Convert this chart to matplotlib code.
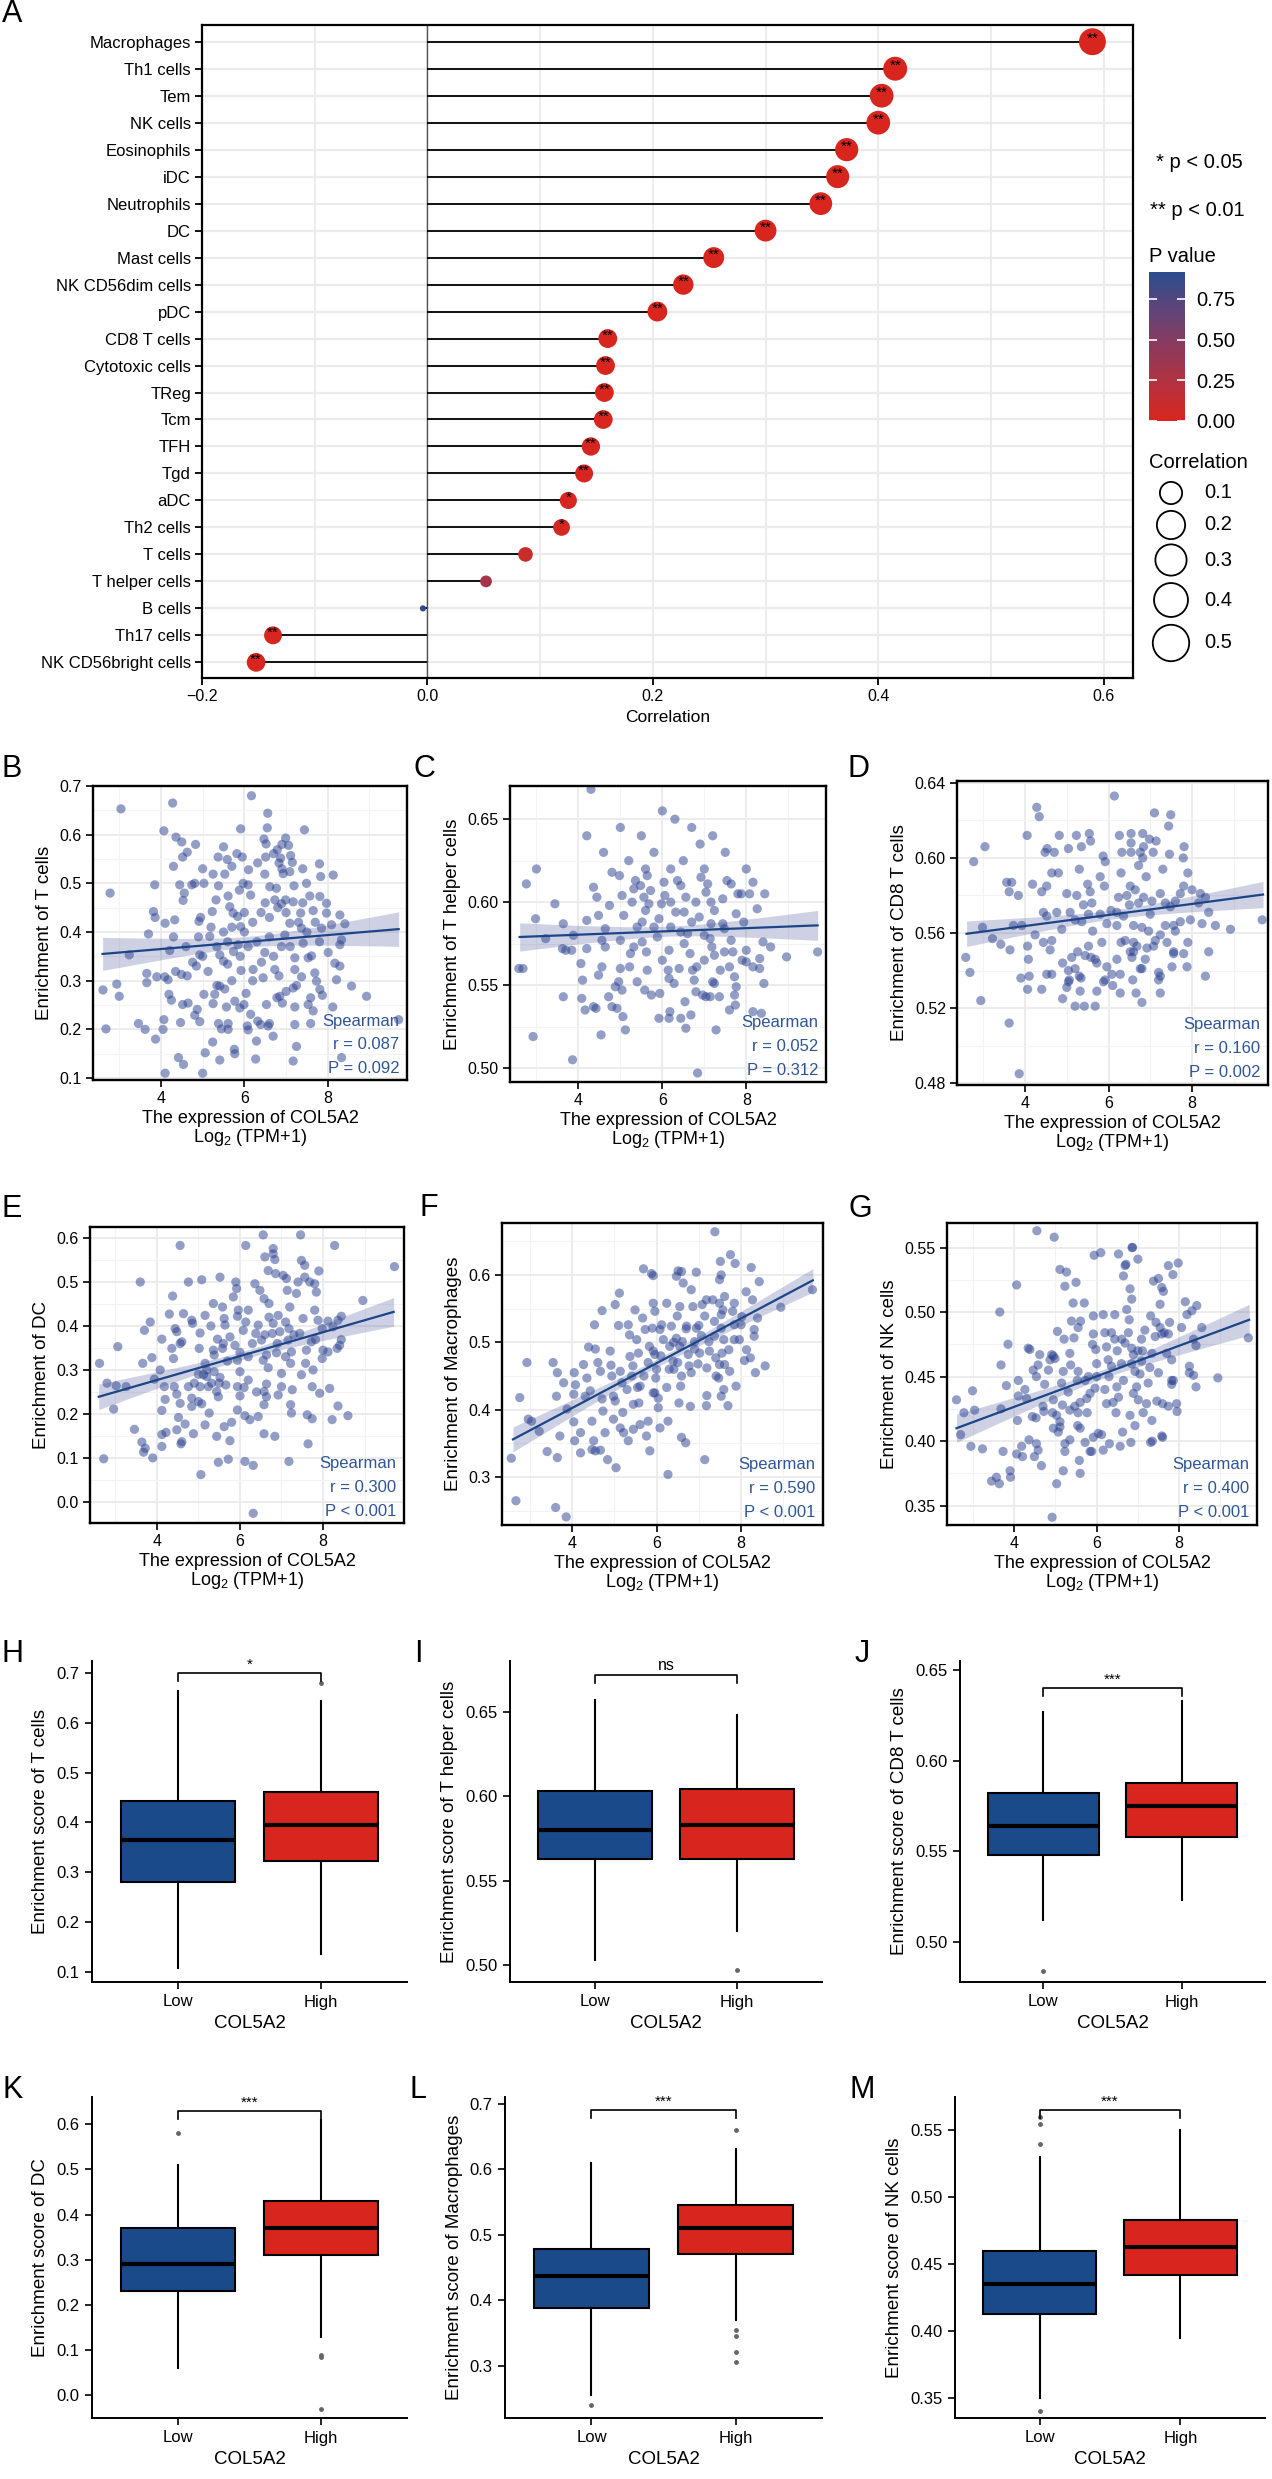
import numpy as np
import matplotlib
matplotlib.use('Agg')
import matplotlib.pyplot as plt
from matplotlib.colors import LinearSegmentedColormap, Normalize
from matplotlib.ticker import MultipleLocator, FormatStrFormatter

plt.rcParams['font.family'] = ['Liberation Sans', 'DejaVu Sans']
plt.rcParams['mathtext.fontset'] = 'custom'
plt.rcParams['mathtext.rm'] = 'Liberation Sans'
plt.rcParams['mathtext.default'] = 'regular'

# ---------------- data: panel A ----------------
cells = ['Macrophages', 'Th1 cells', 'Tem', 'NK cells', 'Eosinophils', 'iDC', 'Neutrophils', 'DC',
         'Mast cells', 'NK CD56dim cells', 'pDC', 'CD8 T cells', 'Cytotoxic cells', 'TReg', 'Tcm',
         'TFH', 'Tgd', 'aDC', 'Th2 cells', 'T cells', 'T helper cells', 'B cells', 'Th17 cells',
         'NK CD56bright cells']
corr = [0.590, 0.415, 0.403, 0.400, 0.372, 0.364, 0.349, 0.300, 0.254, 0.227, 0.204, 0.160, 0.158,
        0.157, 0.156, 0.145, 0.139, 0.125, 0.119, 0.087, 0.052, -0.004, -0.137, -0.152]
pval = [0.0001, 0.0001, 0.0001, 0.0001, 0.0001, 0.0001, 0.0001, 0.0001, 0.0001, 0.0001, 0.0001,
        0.002, 0.002, 0.002, 0.002, 0.005, 0.006, 0.015, 0.02, 0.092, 0.312, 0.915, 0.006, 0.003]
stars = ['**'] * 17 + ['*', '*', '', '', '', '**', '**']

# ---------------- data: scatter panels ----------------
b_pts = [(3.04,0.653),(4.28,0.665),(6.17,0.680),(6.56,0.644),(6.55,0.614),(5.91,0.612),(7.44,0.610),
 (4.07,0.608),(4.36,0.595),(4.50,0.585),(4.83,0.580),(4.63,0.564),(4.52,0.554),(5.50,0.575),(5.37,0.554),
 (5.59,0.549),(5.82,0.561),(5.95,0.554),(6.47,0.591),(6.52,0.581),(6.99,0.593),(6.90,0.580),(7.06,0.578),
 (6.79,0.569),(6.70,0.561),(6.51,0.554),(7.11,0.557),(6.87,0.552),(6.83,0.542),(6.32,0.542),(7.15,0.543),
 (5.0,0.53),(5.7,0.535),(6.1,0.528),(7.4,0.53),(7.8,0.54),(4.3,0.535),(6.9,0.53),
 (2.78,0.48),(3.85,0.497),(2.61,0.281),(2.94,0.293),(3.0,0.268),(2.68,0.201),(3.24,0.353),(3.46,0.212),
 (3.62,0.200),(3.87,0.18),(3.66,0.315),(3.66,0.296),(3.90,0.308),(3.70,0.396),(3.82,0.442),(3.86,0.43),
 (4.09,0.308),(4.17,0.302),(4.19,0.272),(4.25,0.26),(4.07,0.22),(4.05,0.20),(4.10,0.418),(4.21,0.362),
 (4.33,0.425),(4.45,0.497),(4.56,0.48),(4.53,0.465),(4.35,0.319),(4.49,0.313),(4.63,0.31),(4.52,0.251),
 (4.65,0.254),(4.47,0.214),(4.42,0.142),(4.54,0.128),(4.10,0.11),(4.74,0.497),(4.81,0.50),(5.03,0.50),
 (4.76,0.338),(4.85,0.33),(4.91,0.422),(4.93,0.353),(4.95,0.43),(4.87,0.241),(4.93,0.216),(4.81,0.229),
 (5.24,0.174),(5.06,0.152),(5.0,0.11),(5.41,0.137),(5.25,0.253),(5.29,0.272),(5.03,0.272),(5.13,0.319),
 (5.17,0.391),(5.23,0.442),(5.32,0.466),(5.38,0.495),(5.25,0.519),(5.53,0.519),(5.34,0.37),(5.41,0.353),
 (5.50,0.34),(5.60,0.334),(5.34,0.29),(5.41,0.289),(5.53,0.283),(5.61,0.474),(5.65,0.452),(5.73,0.439),
 (5.74,0.36),(5.57,0.246),(5.77,0.258),(5.38,0.212),(5.61,0.212),(5.45,0.201),(5.61,0.2),(5.76,0.159),
 (5.77,0.15),(5.89,0.244),(5.99,0.251),(6.04,0.274),(5.92,0.321),(5.85,0.374),(5.91,0.411),(5.84,0.432),
 (5.88,0.486),(5.97,0.50),(6.09,0.497),(6.15,0.476),(6.09,0.37),(6.07,0.207),(6.09,0.199),(6.15,0.231),
 (6.32,0.217),(6.29,0.176),(6.27,0.139),(6.21,0.323),(6.41,0.338),(6.49,0.358),(6.45,0.306),(6.53,0.251),
 (6.57,0.207),(6.60,0.212),(6.69,0.186),(6.39,0.21),(6.49,0.519),(6.61,0.493),(6.77,0.49),(6.73,0.466),
 (6.89,0.458),(6.99,0.466),(6.93,0.52),(7.09,0.524),(6.73,0.323),(6.83,0.31),(6.85,0.268),(6.91,0.254),
 (6.78,0.265),(7.0,0.278),(6.89,0.37),(6.97,0.394),(7.09,0.418),(7.21,0.347),(7.21,0.323),(7.17,0.285),
 (7.25,0.29),(7.21,0.246),(7.21,0.21),(7.25,0.165),(7.17,0.135),(7.19,0.495),(7.17,0.462),(7.35,0.439),
 (7.49,0.50),(7.57,0.474),(7.65,0.444),(7.37,0.308),(7.37,0.408),(7.41,0.377),(7.53,0.347),(7.61,0.351),
 (7.53,0.251),(7.59,0.265),(7.65,0.238),(7.59,0.212),(7.69,0.316),(7.73,0.299),(7.81,0.282),(7.87,0.27),
 (7.83,0.514),(8.13,0.517),(7.81,0.473),(7.97,0.459),(7.85,0.408),(7.97,0.439),(8.09,0.415),(8.29,0.435),
 (8.41,0.417),(8.29,0.374),(8.33,0.384),(8.17,0.336),(8.29,0.33),(8.12,0.246),(8.33,0.142),(8.57,0.289),
 (8.93,0.268),(9.70,0.22),(8.01,0.358),(8.21,0.302),
 (5.5,0.40),(5.7,0.41),(6.0,0.40),(6.2,0.42),(6.4,0.44),(6.6,0.43),(6.8,0.45),(7.0,0.44),(7.3,0.42),
 (7.5,0.40),(6.3,0.38),(6.6,0.39),(7.1,0.37),(5.6,0.38),(6.0,0.44),(6.5,0.46),(7.4,0.46),(7.7,0.42),
 (5.2,0.41),(4.9,0.39),(5.9,0.35),(6.7,0.35),(7.8,0.38),(6.2,0.30),(5.7,0.30),(5.0,0.35),(4.6,0.37),(4.3,0.39)]

c_pts = [(2.76,0.611),(3.44,0.599),(2.98,0.59),(2.58,0.56),(2.68,0.56),(2.92,0.519),(3.86,0.505),(3.22,0.578),
 (3.64,0.587),(3.62,0.572),(3.70,0.571),(3.84,0.571),(3.64,0.543),(3.88,0.58),(4.10,0.553),(4.06,0.563),
 (4.08,0.542),(4.16,0.535),(4.20,0.572),(4.20,0.589),(4.36,0.609),(4.44,0.603),(4.48,0.592),(4.48,0.556),
 (4.36,0.537),(4.42,0.536),(4.54,0.52),(4.56,0.561),(4.64,0.573),(4.56,0.577),(4.64,0.584),(4.74,0.598),
 (4.72,0.543),(4.80,0.537),(4.92,0.536),(4.96,0.552),(4.88,0.549),(5.04,0.547),(5.06,0.531),(5.12,0.523),
 (5.0,0.577),(5.08,0.592),(5.04,0.604),(4.98,0.616),(5.28,0.60),(5.32,0.608),(5.36,0.613),(5.24,0.569),
 (5.32,0.573),(5.22,0.561),(5.40,0.552),(5.52,0.588),(5.56,0.603),(5.48,0.61),(5.64,0.616),(5.72,0.607),
 (5.68,0.599),(5.62,0.57),(5.64,0.559),(5.58,0.547),(5.74,0.544),(5.52,0.576),(5.94,0.545),(5.92,0.53),
 (6.16,0.53),(6.18,0.534),(5.92,0.59),(5.98,0.599),(6.04,0.612),(6.06,0.604),(5.88,0.579),(6.16,0.571),
 (6.14,0.559),(6.16,0.554),(6.28,0.551),(6.36,0.613),(6.44,0.61),(6.56,0.603),(6.52,0.594),(6.32,0.594),
 (6.44,0.582),(6.52,0.575),(6.60,0.581),(6.54,0.54),(6.44,0.53),(6.56,0.524),(6.68,0.532),(6.66,0.569),
 (6.72,0.559),(6.76,0.553),(6.82,0.561),(6.84,0.497),(6.80,0.546),(6.92,0.615),(7.04,0.606),(7.08,0.611),
 (7.16,0.60),(7.24,0.595),(7.16,0.587),(6.88,0.591),(6.96,0.544),(7.04,0.543),(7.14,0.578),(7.18,0.573),
 (7.24,0.568),(7.20,0.552),(7.24,0.551),(7.14,0.543),(7.36,0.543),(7.28,0.523),(7.38,0.559),(7.48,0.57),
 (7.44,0.587),(7.48,0.584),(7.54,0.613),(7.64,0.611),(7.44,0.602),(7.80,0.605),(7.76,0.593),(7.64,0.577),
 (7.68,0.57),(7.60,0.561),(7.72,0.555),(7.76,0.549),(7.72,0.544),(7.74,0.538),(7.60,0.535),(7.88,0.605),
 (8.08,0.605),(8.16,0.612),(8.44,0.605),(8.26,0.596),(7.94,0.588),(8.0,0.571),(7.90,0.565),(8.0,0.564),
 (8.16,0.561),(8.32,0.56),(8.32,0.566),(8.40,0.576),(8.58,0.573),(8.42,0.551),(8.16,0.534),(8.36,0.533),
 (8.96,0.567),(9.70,0.57),
 (4.3,0.668),(5.0,0.645),(5.5,0.64),(6.0,0.655),(6.3,0.65),(6.7,0.645),(7.2,0.64),(4.6,0.63),(5.8,0.63),
 (6.5,0.625),(7.5,0.63),(7.0,0.62),(5.2,0.625),(4.8,0.618),(6.2,0.62),(8.0,0.62),(3.0,0.62),(6.9,0.635),
 (5.6,0.62),(4.2,0.64),(5.4,0.585),(5.8,0.585),(6.2,0.585),(6.7,0.588),(7.0,0.58),(5.0,0.56),(6.0,0.565),
 (6.4,0.56),(7.0,0.565),(5.6,0.595),(6.2,0.6),(6.8,0.6)]

d_pts = [(2.58,0.547),(2.68,0.539),(2.94,0.524),(2.98,0.563),(3.22,0.557),(3.42,0.554),(3.64,0.551),
 (3.62,0.512),(3.86,0.485),(3.56,0.587),(3.68,0.587),(3.62,0.582),(3.84,0.58),(3.72,0.564),(3.92,0.564),
 (4.06,0.553),(4.08,0.546),(3.90,0.536),(4.10,0.537),(4.06,0.53),(4.40,0.53),(4.18,0.586),(4.40,0.582),
 (4.52,0.585),(4.64,0.592),(4.44,0.571),(4.52,0.569),(4.24,0.559),(4.44,0.555),(4.52,0.538),(4.64,0.538),
 (4.60,0.551),(4.64,0.556),(4.76,0.571),(4.88,0.562),(4.90,0.544),(4.90,0.525),(5.04,0.54),(5.04,0.534),
 (5.06,0.535),(5.00,0.531),(5.20,0.521),(5.42,0.521),(5.68,0.521),(5.32,0.529),(5.30,0.537),(5.34,0.536),
 (5.20,0.541),(5.12,0.547),(5.26,0.55),(5.44,0.548),(5.00,0.581),(5.24,0.58),(5.08,0.571),(5.20,0.567),
 (5.36,0.566),(5.50,0.586),(5.56,0.582),(5.60,0.576),(5.52,0.57),(5.62,0.561),(5.52,0.553),(5.58,0.547),
 (5.72,0.544),(5.68,0.546),(5.84,0.555),(5.72,0.529),(5.88,0.534),(5.96,0.542),(5.92,0.535),(6.08,0.538),
 (6.20,0.546),(6.28,0.538),(6.10,0.532),(6.28,0.528),(6.58,0.535),(6.66,0.528),(6.80,0.523),(7.24,0.528),
 (7.20,0.535),(7.20,0.539),(6.80,0.541),(6.56,0.547),(6.52,0.55),(6.40,0.556),(6.60,0.555),(6.68,0.553),
 (6.88,0.546),(6.92,0.552),(7.12,0.556),(7.08,0.553),(7.24,0.559),(6.20,0.564),(5.96,0.565),(6.06,0.572),
 (6.20,0.571),(6.36,0.569),(6.60,0.564),(6.80,0.563),(6.96,0.561),(6.24,0.579),(6.44,0.58),(6.52,0.585),
 (6.64,0.583),(6.72,0.576),(6.84,0.579),(7.04,0.577),(7.24,0.581),(7.36,0.576),(7.48,0.574),(7.60,0.577),
 (7.72,0.581),(7.80,0.585),(8.00,0.583),(8.20,0.581),(8.16,0.576),(8.32,0.579),(8.40,0.571),(7.96,0.567),
 (8.24,0.565),(7.72,0.566),(7.56,0.564),(7.36,0.564),(7.60,0.561),(8.56,0.564),(8.92,0.562),(9.68,0.567),
 (7.90,0.555),(7.56,0.55),(7.56,0.549),(7.80,0.549),(8.40,0.55),(7.52,0.542),(7.88,0.542),(8.32,0.537),
 (7.24,0.537),(6.76,0.541),(6.60,0.55),
 (6.14,0.633),(4.28,0.627),(4.34,0.622),(7.10,0.624),(7.49,0.623),(4.05,0.612),(4.82,0.612),(5.23,0.612),
 (5.54,0.613),(5.57,0.609),(5.35,0.606),(5.04,0.605),(3.04,0.606),(2.77,0.598),(4.48,0.603),(4.53,0.605),
 (4.70,0.603),(6.26,0.612),(6.54,0.613),(6.54,0.608),(6.82,0.613),(6.98,0.610),(7.14,0.609),(6.84,0.606),
 (7.07,0.603),(7.44,0.617),(7.81,0.606),(7.79,0.60),(7.46,0.602),(6.76,0.603),(6.54,0.603),(5.87,0.601),
 (5.92,0.598),(6.32,0.603),(6.82,0.60),(6.72,0.596),
 (4.8,0.592),(5.3,0.594),(5.8,0.59),(6.3,0.592),(6.9,0.59),(7.3,0.594),(7.9,0.592),(5.9,0.585),(6.5,0.575),
 (7.0,0.57),(5.4,0.575),(5.8,0.57),(6.3,0.555),(7.4,0.555)]

e_pts = [(2.62,0.315),(2.72,0.098),(2.80,0.27),(3.02,0.264),(3.06,0.353),(3.26,0.262),(2.96,0.211),
 (3.46,0.165),(3.60,0.50),(3.70,0.39),(3.84,0.409),(3.66,0.315),(3.88,0.328),(3.64,0.136),(3.72,0.122),
 (3.68,0.113),(3.90,0.10),(3.94,0.279),(4.08,0.30),(4.12,0.37),(4.18,0.262),(4.20,0.233),(4.12,0.208),
 (4.12,0.153),(4.22,0.158),(4.12,0.126),(4.30,0.427),(4.38,0.468),(4.36,0.349),(4.40,0.326),(4.42,0.262),
 (4.48,0.245),(4.52,0.192),(4.48,0.164),(4.60,0.137),(4.58,0.132),(4.68,0.177),(4.56,0.224),(4.44,0.394),
 (4.48,0.387),(4.56,0.36),(4.60,0.364),(4.64,0.428),(4.76,0.50),(4.84,0.413),(4.86,0.406),(4.76,0.262),
 (4.84,0.217),(4.84,0.236),(4.88,0.155),(5.04,0.384),(5.08,0.505),(5.02,0.349),(5.04,0.262),(5.00,0.228),
 (5.08,0.223),(5.16,0.175),(5.06,0.062),(5.16,0.315),(5.12,0.289),(5.20,0.285),(5.26,0.202),(5.24,0.262),
 (5.32,0.27),(5.16,0.424),(5.36,0.451),(5.36,0.345),(5.38,0.334),(5.46,0.37),(5.38,0.296),(5.44,0.251),
 (5.48,0.239),(5.52,0.283),(5.44,0.149),(5.48,0.09),(5.52,0.511),(5.58,0.443),(5.64,0.402),(5.62,0.417),
 (5.58,0.349),(5.66,0.266),(5.62,0.171),(5.72,0.097),(5.76,0.139),(5.80,0.181),(5.84,0.466),(5.90,0.50),
 (5.92,0.485),(5.94,0.422),(5.96,0.436),(5.76,0.375),(5.88,0.356),(5.94,0.322),(6.0,0.296),(5.94,0.262),
 (6.0,0.241),(5.94,0.209),(6.12,0.196),(6.12,0.092),(6.32,0.083),(6.32,-0.026),(6.24,0.187),(6.20,0.277),
 (6.08,0.39),(6.14,0.409),(6.20,0.436),(6.36,0.496),(6.48,0.481),(6.60,0.557),(6.80,0.564),(6.84,0.551),
 (6.68,0.526),(6.86,0.519),(6.70,0.451),(6.58,0.462),(6.44,0.402),(6.38,0.383),(6.52,0.368),(6.64,0.334),
 (6.56,0.322),(6.68,0.305),(6.64,0.268),(6.58,0.251),(6.64,0.239),(6.58,0.221),(6.44,0.194),(6.58,0.155),
 (6.84,0.149),(6.80,0.406),(6.78,0.383),(6.92,0.424),(6.96,0.387),(6.88,0.339),(7.00,0.292),(6.92,0.243),
 (7.00,0.262),(7.04,0.515),(7.12,0.508),(7.14,0.481),(7.20,0.443),(7.10,0.409),(7.18,0.394),(7.24,0.341),
 (7.22,0.315),(7.16,0.368),(7.26,0.255),(7.22,0.221),(7.24,0.202),(7.18,0.092),(7.36,0.474),(7.40,0.50),
 (7.44,0.383),(7.52,0.417),(7.48,0.289),(7.60,0.345),(7.58,0.315),(7.62,0.198),(7.64,0.132),(7.48,0.549),
 (7.56,0.538),(7.56,0.511),(7.68,0.50),(7.80,0.496),(7.84,0.477),(7.90,0.525),(7.80,0.436),(7.88,0.413),
 (7.72,0.364),(7.82,0.369),(7.76,0.30),(7.74,0.262),(7.74,0.189),(7.92,0.247),(7.98,0.326),(8.00,0.345),
 (7.98,0.394),(8.12,0.411),(8.24,0.398),(8.36,0.413),(8.44,0.422),(8.34,0.349),(8.40,0.356),(8.44,0.369),
 (8.12,0.341),(8.16,0.258),(8.22,0.187),(8.36,0.218),(8.60,0.196),(8.96,0.458),(9.72,0.535),
 (4.56,0.583),(6.14,0.583),(6.56,0.607),(7.46,0.607),(8.28,0.583),(6.80,0.576),
 (5.3,0.40),(5.6,0.36),(6.0,0.34),(6.3,0.36),(6.6,0.38),(6.9,0.36),(7.3,0.38),(5.2,0.30),(5.7,0.32),
 (6.2,0.33),(6.7,0.42),(7.1,0.33),(5.0,0.29),(4.9,0.27),(5.5,0.27),(6.1,0.26),(6.4,0.25)]

f_pts = [(2.56,0.328),(2.67,0.265),(2.76,0.418),(2.93,0.47),(2.96,0.386),(3.04,0.383),(3.22,0.368),
 (3.41,0.338),(3.55,0.47),(3.65,0.455),(3.63,0.42),(3.71,0.361),(3.65,0.329),(3.61,0.255),(3.86,0.241),
 (3.80,0.44),(3.88,0.401),(4.05,0.455),(4.08,0.437),(4.04,0.423),(4.04,0.382),(4.06,0.354),(4.20,0.366),
 (4.20,0.336),(4.27,0.467),(4.39,0.493),(4.35,0.447),(4.43,0.428),(4.31,0.42),(4.47,0.383),(4.51,0.354),
 (4.47,0.341),(4.55,0.339),(4.67,0.34),(4.53,0.526),(4.55,0.49),(4.61,0.47),(4.67,0.457),(4.71,0.416),
 (4.73,0.398),(4.71,0.547),(4.78,0.366),(4.84,0.326),(4.92,0.466),(4.94,0.45),(4.90,0.487),(4.98,0.42),
 (5.02,0.413),(4.98,0.386),(5.04,0.314),(5.12,0.573),(5.02,0.556),(5.10,0.525),(5.14,0.457),(5.18,0.44),
 (5.20,0.396),(5.14,0.373),(5.22,0.366),(5.33,0.354),(5.33,0.526),(5.36,0.511),(5.37,0.479),(5.44,0.465),
 (5.41,0.45),(5.45,0.408),(5.45,0.371),(5.49,0.548),(5.53,0.504),(5.57,0.484),(5.55,0.433),(5.61,0.435),
 (5.58,0.41),(5.61,0.378),(5.67,0.536),(5.69,0.609),(5.73,0.519),(5.76,0.361),(5.80,0.383),(5.84,0.339),
 (5.83,0.494),(5.88,0.602),(5.92,0.599),(5.92,0.558),(5.96,0.546),(5.90,0.521),(5.92,0.487),(5.96,0.482),
 (5.98,0.447),(5.96,0.425),(5.92,0.425),(6.04,0.403),(6.08,0.373),(6.04,0.417),(6.08,0.519),(6.12,0.526),
 (6.16,0.504),(6.24,0.433),(6.24,0.558),(6.27,0.383),(6.31,0.494),(6.35,0.524),(6.39,0.472),(6.41,0.46),
 (6.27,0.304),(6.47,0.598),(6.51,0.606),(6.59,0.605),(6.63,0.588),(6.55,0.553),(6.49,0.539),(6.47,0.506),
 (6.55,0.494),(6.61,0.501),(6.59,0.45),(6.57,0.435),(6.53,0.41),(6.59,0.359),(6.69,0.351),(6.80,0.405),
 (6.71,0.524),(6.75,0.482),(6.77,0.465),(6.82,0.455),(6.82,0.578),(6.86,0.553),(6.94,0.604),(6.94,0.521),
 (6.90,0.501),(7.00,0.525),(7.06,0.51),(7.02,0.484),(6.98,0.468),(7.08,0.556),(7.14,0.539),(7.18,0.563),
 (7.14,0.326),(7.19,0.421),(7.18,0.406),(7.19,0.462),(7.25,0.487),(7.24,0.501),(7.33,0.563),(7.37,0.531),
 (7.37,0.509),(7.40,0.477),(7.41,0.45),(7.49,0.593),(7.51,0.62),(7.53,0.60),(7.49,0.558),(7.53,0.541),
 (7.57,0.548),(7.61,0.568),(7.53,0.521),(7.59,0.504),(7.55,0.484),(7.49,0.467),(7.47,0.447),(7.59,0.43),
 (7.53,0.42),(7.61,0.467),(7.71,0.489),(7.73,0.457),(7.69,0.406),(7.75,0.63),(7.86,0.617),(7.80,0.546),
 (7.84,0.526),(7.84,0.558),(7.84,0.504),(7.88,0.435),(7.96,0.504),(8.00,0.526),(8.02,0.538),(8.08,0.473),
 (8.13,0.489),(8.22,0.477),(8.12,0.575),(8.24,0.611),(8.27,0.563),(8.34,0.455),(8.31,0.509),(8.31,0.519),
 (8.39,0.536),(8.43,0.59),(8.57,0.465),(8.94,0.552),(9.69,0.578),(7.38,0.664),
 (5.8,0.47),(6.1,0.48),(6.4,0.5),(6.7,0.52),(6.3,0.46),(5.7,0.45),(6.9,0.49),(5.3,0.43),(6.0,0.46),(6.5,0.47)]

g_pts = [(2.60,0.432),(2.78,0.422),(2.70,0.405),(2.99,0.439),(3.04,0.424),(2.95,0.396),(3.23,0.394),
 (3.45,0.369),(3.57,0.372),(3.64,0.367),(3.73,0.392),(3.68,0.425),(3.68,0.459),(3.65,0.50),(3.85,0.475),
 (3.81,0.443),(3.90,0.377),(3.91,0.372),(4.06,0.521),(4.10,0.447),(4.10,0.435),(4.08,0.416),(4.06,0.39),
 (4.18,0.396),(4.20,0.388),(4.26,0.44),(4.30,0.433),(4.34,0.472),(4.38,0.471),(4.36,0.401),(4.46,0.455),
 (4.44,0.419),(4.53,0.418),(4.54,0.45),(4.58,0.459),(4.62,0.467),(4.54,0.398),(4.58,0.393),(4.49,0.388),
 (4.66,0.381),(4.74,0.444),(4.83,0.455),(4.70,0.427),(4.72,0.423),(4.87,0.463),(4.91,0.467),(4.95,0.466),
 (4.99,0.464),(4.92,0.341),(4.95,0.432),(4.93,0.422),(4.95,0.41),(5.03,0.42),(5.03,0.367),(5.05,0.485),
 (5.11,0.533),(5.27,0.531),(5.23,0.52),(5.19,0.454),(5.15,0.445),(5.11,0.411),(5.11,0.415),(5.07,0.407),
 (5.17,0.428),(5.23,0.398),(5.23,0.392),(5.19,0.377),(5.35,0.468),(5.37,0.459),(5.31,0.438),(5.35,0.424),
 (5.35,0.401),(5.21,0.479),(5.39,0.493),(5.43,0.507),(5.50,0.523),(5.45,0.48),(5.47,0.427),(5.55,0.422),
 (5.54,0.412),(5.60,0.41),(5.58,0.385),(5.60,0.375),(5.53,0.447),(5.55,0.454),(5.55,0.488),(5.61,0.493),
 (5.70,0.507),(5.72,0.447),(5.76,0.433),(5.77,0.422),(5.72,0.399),(5.84,0.437),(5.84,0.392),(5.88,0.392),
 (5.92,0.403),(5.94,0.544),(6.10,0.546),(5.92,0.497),(5.92,0.483),(5.90,0.475),(5.98,0.471),(5.96,0.441),
 (6.00,0.45),(6.04,0.406),(6.12,0.405),(6.16,0.393),(6.24,0.429),(6.31,0.398),(6.16,0.498),(6.20,0.484),
 (6.24,0.473),(6.36,0.458),(6.28,0.463),(6.36,0.484),(6.44,0.498),(6.44,0.479),(6.49,0.442),(6.53,0.434),
 (6.47,0.422),(6.53,0.545),(6.69,0.536),(6.71,0.537),(6.65,0.528),(6.61,0.479),(6.69,0.476),(6.65,0.447),
 (6.57,0.396),(6.63,0.407),(6.73,0.502),(6.79,0.494),(6.77,0.484),(6.85,0.472),(6.85,0.46),(6.81,0.42),
 (6.83,0.399),(6.81,0.518),(6.85,0.51),(6.87,0.55),(7.00,0.541),(6.89,0.467),(6.93,0.454),(6.97,0.442),
 (6.89,0.437),(7.01,0.432),(6.93,0.412),(7.05,0.452),(7.09,0.479),(7.11,0.47),(7.09,0.462),(7.17,0.486),
 (7.13,0.422),(7.21,0.429),(7.25,0.445),(7.29,0.457),(7.31,0.497),(7.34,0.468),(7.34,0.416),(7.31,0.399),
 (7.42,0.481),(7.44,0.492),(7.46,0.431),(7.50,0.453),(7.38,0.524),(7.50,0.526),(7.58,0.519),(7.62,0.516),
 (7.54,0.506),(7.58,0.483),(7.60,0.429),(7.54,0.488),(7.64,0.484),(7.77,0.492),(7.74,0.483),(7.74,0.536),
 (7.85,0.529),(7.98,0.538),(7.82,0.463),(7.70,0.468),(7.82,0.447),(7.82,0.444),(7.74,0.427),(7.60,0.403),
 (7.94,0.429),(7.95,0.423),(8.06,0.488),(8.15,0.508),(8.19,0.498),(8.31,0.501),(8.43,0.505),(8.25,0.453),
 (8.25,0.458),(8.35,0.451),(8.41,0.442),(8.35,0.479),(8.41,0.474),(8.55,0.488),(8.94,0.449),(9.68,0.48),
 (7.86,0.447),(7.35,0.40),(7.58,0.404),(4.55,0.563),(4.97,0.558),(6.86,0.55),
 (6.0,0.46),(6.3,0.45),(6.6,0.46),(6.2,0.44),(5.8,0.45),(6.5,0.47),(7.0,0.47),(5.6,0.43),(6.4,0.43)]

# fitted line ends (x, y) and CI half widths (left, centre, right)
fit_x = [2.6, 9.7]
b_fit, b_ci = [0.355, 0.406], [0.034, 0.011, 0.0355]
c_fit, c_ci = [0.579, 0.586], [0.0085, 0.003, 0.009]
d_fit, d_ci = [0.5596, 0.5805], [0.0068, 0.0024, 0.007]
e_fit, e_ci = [0.239, 0.432], [0.029, 0.009, 0.0325]
f_fit, f_ci = [0.356, 0.592], [0.0185, 0.006, 0.0175]
g_fit, g_ci = [0.410, 0.494], [0.011, 0.0035, 0.012]
fit_mid = 6.1

# ---------------- data: box panels (whislo, q1, med, q3, whishi) ----------------
groups = ['Low', 'High']
h_low, h_high = [0.108, 0.280, 0.364, 0.443, 0.664], [0.136, 0.322, 0.395, 0.462, 0.644]
h_out_low, h_out_high = [], [0.680]
i_low, i_high = [0.503, 0.563, 0.580, 0.603, 0.657], [0.520, 0.563, 0.583, 0.604, 0.648]
i_out_low, i_out_high = [], [0.497]
j_low, j_high = [0.512, 0.548, 0.564, 0.582, 0.627], [0.523, 0.558, 0.575, 0.588, 0.633]
j_out_low, j_out_high = [0.484], []
k_low, k_high = [0.06, 0.23, 0.29, 0.37, 0.51], [0.13, 0.31, 0.37, 0.43, 0.61]
k_out_low, k_out_high = [0.58], [0.09, 0.085, -0.03]
l_low, l_high = [0.255, 0.388, 0.437, 0.478, 0.61], [0.37, 0.47, 0.51, 0.545, 0.63]
l_out_low, l_out_high = [0.24], [0.355, 0.345, 0.32, 0.305, 0.66]
m_low, m_high = [0.35, 0.413, 0.435, 0.46, 0.53], [0.395, 0.442, 0.463, 0.483, 0.55]
m_out_low, m_out_high = [0.54, 0.555, 0.56, 0.34], []

# ---------------- figure ----------------
W, H = 1272, 2479
fig = plt.figure(figsize=(W / 100, H / 100), dpi=100)


def px_axes(l, t, r, b):
    return fig.add_axes([l / W, 1 - b / H, (r - l) / W, (b - t) / H])


def letter(x, y, s):
    fig.text(x / W, 1 - y / H, s, fontsize=22, ha='center', va='center')


# ---- panel A ----
ax = px_axes(202, 25, 1133, 678)
n = len(cells)
ypos = np.arange(n)[::-1]
pcmap = LinearSegmentedColormap.from_list('pv', ['#D8261E', '#B4323F', '#8D3A5D', '#5E4579', '#2B4D8E'])
pnorm = Normalize(0, 0.915)
sizes = np.interp(np.abs(corr), [0, 0.15, 0.6], [15, 180, 380])
for yy in ypos:
    ax.axhline(yy, color='#EBEBEB', lw=1.6, zorder=0)
for xv in np.arange(-0.2, 0.61, 0.1):
    ax.axvline(xv, color='#EBEBEB', lw=1.3, zorder=0)
ax.axvline(0, color='#555555', lw=1.0, zorder=1)
ax.hlines(ypos, 0, corr, color='black', lw=1.3, zorder=2)
ax.scatter(corr, ypos, s=sizes, c=pcmap(pnorm(pval)), edgecolors='none', zorder=3)
for c, yy, st in zip(corr, ypos, stars):
    if st:
        ax.text(c, yy + 0.1, st, ha='center', va='center', fontsize=11, zorder=4)
ax.set_ylim(-0.58, n - 0.38)
ax.set_xlim(-0.199, 0.626)
ax.set_yticks(ypos)
ax.set_yticklabels(cells, fontsize=12)
ax.set_xticks([-0.2, 0.0, 0.2, 0.4, 0.6])
ax.set_xticklabels(['\u22120.2', '0.0', '0.2', '0.4', '0.6'], fontsize=11.5)
ax.set_xlabel('Correlation', fontsize=12.5, labelpad=4)
ax.tick_params(length=5, width=1.3, color='black', pad=3)
for sp in ax.spines.values():
    sp.set_linewidth(1.6)
letter(12, 14, 'A')

# legend: stars, colourbar, size
fig.text(1156 / W, 1 - 163 / H, '* p < 0.05', fontsize=14.5, va='center')
fig.text(1150 / W, 1 - 210 / H, '** p < 0.01', fontsize=14.5, va='center')
fig.text(1149 / W, 1 - 256 / H, 'P value', fontsize=14.5, va='center')
cax = px_axes(1149, 272, 1185, 421)
sm = plt.cm.ScalarMappable(norm=pnorm, cmap=pcmap)
cb = fig.colorbar(sm, cax=cax, ticks=[0, 0.25, 0.5, 0.75])
cb.outline.set_visible(False)
cb.ax.set_yticklabels(['0.00', '0.25', '0.50', '0.75'])
cax.yaxis.set_ticks_position('both')
cax.tick_params(direction='in', length=6, width=1.2, colors='white', labelcolor='black',
                labelsize=14.5, labelleft=False, pad=8)
fig.text(1149 / W, 1 - 463 / H, 'Correlation', fontsize=14.5, va='center')
ov = fig.add_axes([0, 0, 1, 1])
ov.set_xlim(0, W)
ov.set_ylim(H, 0)
ov.axis('off')
leg_vals = [0.1, 0.2, 0.3, 0.4, 0.5]
leg_y = [493, 525, 560, 600, 643]
leg_s = 2.05 * np.interp(leg_vals, [0, 0.15, 0.6], [15, 180, 380])
ov.scatter([1171] * 5, leg_y, s=leg_s, facecolors='white', edgecolors='black', linewidths=1.3)
for v, yy in zip(leg_vals, leg_y):
    ov.text(1204, yy, str(v), fontsize=14.5, va='center')


# ---- scatter panels ----
def scatter_panel(box, pts, fit, ci, xl, yl, step, fmt, ylabel, r, p, lab, lxy):
    ax = px_axes(*box)
    pts = np.array(pts)
    ax.set_axisbelow(True)
    ax.scatter(pts[:, 0], pts[:, 1], s=44, color='#283F8F', alpha=0.5, edgecolors='none', zorder=2)
    xx = np.linspace(fit_x[0], fit_x[1], 120)
    yy = fit[0] + (fit[1] - fit[0]) * (xx - fit_x[0]) / (fit_x[1] - fit_x[0])
    hend = np.where(xx < fit_mid, ci[0], ci[2])
    dend = np.where(xx < fit_mid, fit_mid - fit_x[0], fit_x[1] - fit_mid)
    hw = np.sqrt(ci[1] ** 2 + (hend ** 2 - ci[1] ** 2) * ((xx - fit_mid) / dend) ** 2)
    ax.fill_between(xx, yy - hw, yy + hw, color='#3A4A90', alpha=0.25, lw=0, zorder=3)
    ax.plot(xx, yy, color='#1C4587', lw=1.6, zorder=4)
    ax.set_xlim(*xl)
    ax.set_ylim(*yl)
    ax.xaxis.set_major_locator(MultipleLocator(2))
    ax.xaxis.set_minor_locator(MultipleLocator(1))
    ax.yaxis.set_major_locator(MultipleLocator(step))
    ax.yaxis.set_minor_locator(MultipleLocator(step / 2))
    ax.yaxis.set_major_formatter(FormatStrFormatter(fmt))
    ax.grid(which='major', color='#EBEBEB', lw=1.3)
    ax.grid(which='minor', color='#F3F3F3', lw=0.8)
    ax.tick_params(which='major', length=5, width=1.2, labelsize=11.5, pad=3)
    ax.tick_params(which='minor', length=0)
    for sp in ax.spines.values():
        sp.set_linewidth(1.7)
    ax.set_ylabel(ylabel, fontsize=13.5, labelpad=5)
    ax.set_xlabel('The expression of COL5A2\nLog$_2$ (TPM+1)', fontsize=13, linespacing=0.95, labelpad=3)
    col = '#2F5597'
    for yv, s in zip([0.20, 0.12, 0.04], ['Spearman', 'r = ' + r, p]):
        ax.text(0.975, yv, s, transform=ax.transAxes, ha='right', va='center', fontsize=12, color=col, zorder=5)
    letter(lxy[0], lxy[1], lab)


scatter_panel((93, 786, 407, 1080), b_pts, b_fit, b_ci, (2.37, 9.9), (0.096, 0.70), 0.1, '%.1f',
              'Enrichment of T cells', '0.087', 'P = 0.092', 'B', (12, 769))
scatter_panel((510, 786, 826, 1082), c_pts, c_fit, c_ci, (2.37, 9.9), (0.4916, 0.670), 0.05, '%.2f',
              'Enrichment of T helper cells', '0.052', 'P = 0.312', 'C', (424, 769))
scatter_panel((957, 781, 1268, 1085), d_pts, d_fit, d_ci, (2.37, 9.82), (0.479, 0.641), 0.04, '%.2f',
              'Enrichment of CD8 T cells', '0.160', 'P = 0.002', 'D', (859, 769))
scatter_panel((90, 1227, 404, 1523), e_pts, e_fit, e_ci, (2.39, 9.95), (-0.048, 0.625), 0.1, '%.1f',
              'Enrichment of DC', '0.300', 'P < 0.001', 'E', (12, 1209))
scatter_panel((502, 1223, 823, 1525), f_pts, f_fit, f_ci, (2.34, 9.94), (0.229, 0.677), 0.1, '%.1f',
              'Enrichment of Macrophages', '0.590', 'P < 0.001', 'F', (429, 1208))
scatter_panel((947, 1223, 1257, 1525), g_pts, g_fit, g_ci, (2.37, 9.89), (0.335, 0.569), 0.05, '%.2f',
              'Enrichment of NK cells', '0.400', 'P < 0.001', 'G', (860, 1209))


# ---- box panels ----
def box_panel(box, low, high, out_low, out_high, yl, step, fmt, ylabel, sig, by, lab, lxy):
    ax = px_axes(*box)
    stats = []
    for q, o in ((low, out_low), (high, out_high)):
        stats.append(dict(whislo=q[0], q1=q[1], med=q[2], q3=q[3], whishi=q[4], fliers=o))
    bp = ax.bxp(stats, positions=[1, 2], widths=0.8, patch_artist=True, showcaps=False,
                boxprops=dict(linewidth=1.5, edgecolor='black'),
                medianprops=dict(color='black', linewidth=3.0),
                whiskerprops=dict(color='black', linewidth=1.5),
                flierprops=dict(marker='o', markersize=3.5, markerfacecolor='#666666',
                                markeredgecolor='none'))
    for patch, fc in zip(bp['boxes'], ['#1B4A8B', '#D8261F']):
        patch.set_facecolor(fc)
    ax.set_xlim(0.4, 2.6)
    ax.set_ylim(*yl)
    tip = 8 / (box[3] - box[1]) * (yl[1] - yl[0])
    ax.plot([1, 1, 2, 2], [by - tip, by, by, by - tip], color='black', lw=1.2)
    ax.text(1.5, by + tip * 0.15, sig, ha='center', va='bottom', fontsize=11 if sig != 'ns' else 11.5)
    ax.set_xticks([1, 2])
    ax.set_xticklabels(groups)
    ax.yaxis.set_major_locator(MultipleLocator(step))
    ax.yaxis.set_major_formatter(FormatStrFormatter(fmt))
    ax.spines['top'].set_visible(False)
    ax.spines['right'].set_visible(False)
    ax.spines['left'].set_linewidth(1.4)
    ax.spines['bottom'].set_linewidth(1.4)
    ax.tick_params(length=5, width=1.2, labelsize=12, pad=4)
    ax.set_ylabel(ylabel, fontsize=13.5, labelpad=5)
    ax.set_xlabel('COL5A2', fontsize=13.5, labelpad=4)
    letter(lxy[0], lxy[1], lab)


box_panel((92, 1661, 407, 1982), h_low, h_high, h_out_low, h_out_high, (0.08, 0.724), 0.1, '%.1f',
          'Enrichment score of T cells', '*', 0.70, 'H', (13, 1654))
box_panel((510, 1661, 822, 1982), i_low, i_high, i_out_low, i_out_high, (0.49, 0.68), 0.05, '%.2f',
          'Enrichment score of T helper cells', 'ns', 0.672, 'I', (418, 1654))
box_panel((960, 1661, 1265, 1982), j_low, j_high, j_out_low, j_out_high, (0.478, 0.655), 0.05, '%.2f',
          'Enrichment score of CD8 T cells', '***', 0.640, 'J', (862, 1654))
box_panel((92, 2097, 407, 2418), k_low, k_high, k_out_low, k_out_high, (-0.05, 0.66), 0.1, '%.1f',
          'Enrichment score of DC', '***', 0.63, 'K', (13, 2090))
box_panel((505, 2097, 822, 2418), l_low, l_high, l_out_low, l_out_high, (0.22, 0.71), 0.1, '%.1f',
          'Enrichment score of Macrophages', '***', 0.69, 'L', (418, 2090))
box_panel((955, 2097, 1265, 2418), m_low, m_high, m_out_low, m_out_high, (0.335, 0.575), 0.05, '%.2f',
          'Enrichment score of NK cells', '***', 0.565, 'M', (862, 2090))

fig.savefig('out.png', dpi=100)
